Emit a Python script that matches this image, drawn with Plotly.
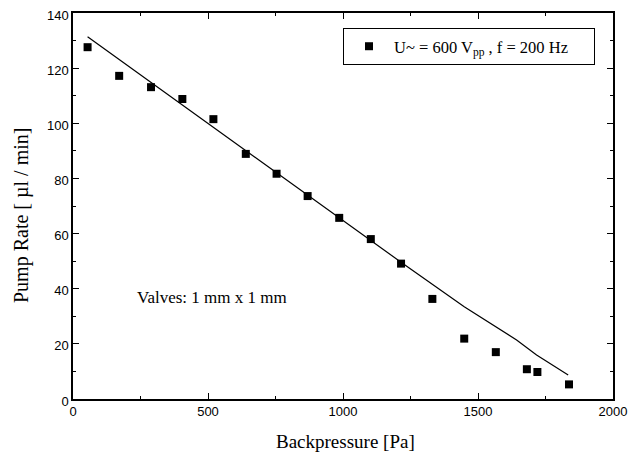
import plotly.graph_objects as go

# measured data
backpressure = [54, 171, 289, 405, 520, 640, 754, 869, 986, 1103, 1215, 1331, 1449, 1566, 1681, 1720, 1837]
pump_rate = [127.6, 117.2, 113.1, 108.8, 101.5, 88.9, 81.7, 73.6, 65.7, 58.0, 49.1, 36.3, 21.9, 17.0, 10.8, 9.8, 5.3]

# fitted curve
fit_x = [54, 289, 520, 754, 986, 1215, 1449, 1643, 1717, 1834]
fit_y = [131.4, 114.8, 98.5, 82.0, 65.7, 49.6, 33.5, 21.4, 16.0, 8.7]

series_name = "U~ = 600 V<sub>pp</sub> , f = 200 Hz\u00a0\u00a0\u00a0\u00a0\u00a0"
note_text = "Valves: 1 mm x 1 mm"
x_title = "Backpressure [Pa]"
y_title = "Pump Rate [ µl / min]"

serif = "Liberation Serif, Times New Roman, serif"
sans = "Liberation Sans, Arial, sans-serif"

# the page body adds an 8 px margin; size the figure to fill the window
OFF = 8
W, H = 641 - OFF, 456 - OFF
# plot area in window pixels: x 73..613, y 13..399
PX0, PX1, PY0, PY1 = 73 - OFF, 613 - OFF, 13 - OFF, 399 - OFF
L, R, T, B = PX0, W - PX1, PY0, H - PY1
pw, ph = PX1 - PX0, PY1 - PY0


def px(xw):
    return (xw - OFF - PX0) / pw


def py(yw):
    return (PY1 - (yw - OFF)) / ph


fig = go.Figure()
fig.add_trace(go.Scatter(
    x=fit_x, y=fit_y, mode="lines",
    line=dict(color="black", width=1.2),
    showlegend=False, hoverinfo="skip",
))
fig.add_trace(go.Scatter(
    x=backpressure, y=pump_rate, mode="markers",
    marker=dict(symbol="square", size=8, color="black"),
    name=series_name,
))

axis_common = dict(
    showline=True, linecolor="black", linewidth=1.5, mirror="ticks",
    ticks="inside", ticklen=6, tickwidth=1, tickcolor="black",
    showgrid=False, zeroline=False, automargin=False,
    ticklabeloverflow="allow",
    tickfont=dict(family=sans, size=13, color="black"),
)

fig.update_xaxes(
    range=[0, 2000], dtick=500, tick0=0,
    minor=dict(ticks="inside", ticklen=3, dtick=250, tickcolor="black", showgrid=False),
    **axis_common,
)
fig.update_yaxes(
    range=[0, 140], dtick=20, tick0=0, ticklabelshift=2,
    minor=dict(ticks="inside", ticklen=3, dtick=10, tickcolor="black", showgrid=False),
    **axis_common,
)

fig.add_annotation(
    x=px(345), y=py(441), xref="paper", yref="paper",
    xanchor="center", yanchor="middle", text=x_title, showarrow=False,
    font=dict(family=serif, size=19, color="black"),
)
fig.add_annotation(
    x=px(21), y=py(216), xref="paper", yref="paper",
    xanchor="center", yanchor="middle", text=y_title, showarrow=False, textangle=-90,
    font=dict(family=serif, size=20, color="black"),
)
fig.add_annotation(
    x=px(135), y=py(297), xref="paper", yref="paper",
    xanchor="left", yanchor="middle",
    text=note_text, showarrow=False,
    font=dict(family=serif, size=17, color="black"),
)

fig.update_layout(
    width=W, height=H,
    margin=dict(l=L, r=R, t=T, b=B),
    paper_bgcolor="white", plot_bgcolor="white",
    legend=dict(
        x=px(343), y=py(28), xanchor="left", yanchor="top",
        bordercolor="black", borderwidth=1, bgcolor="white",
        font=dict(family=serif, size=16.5, color="black"),
        itemwidth=40,
    ),
)

fig.write_html("out.html")
